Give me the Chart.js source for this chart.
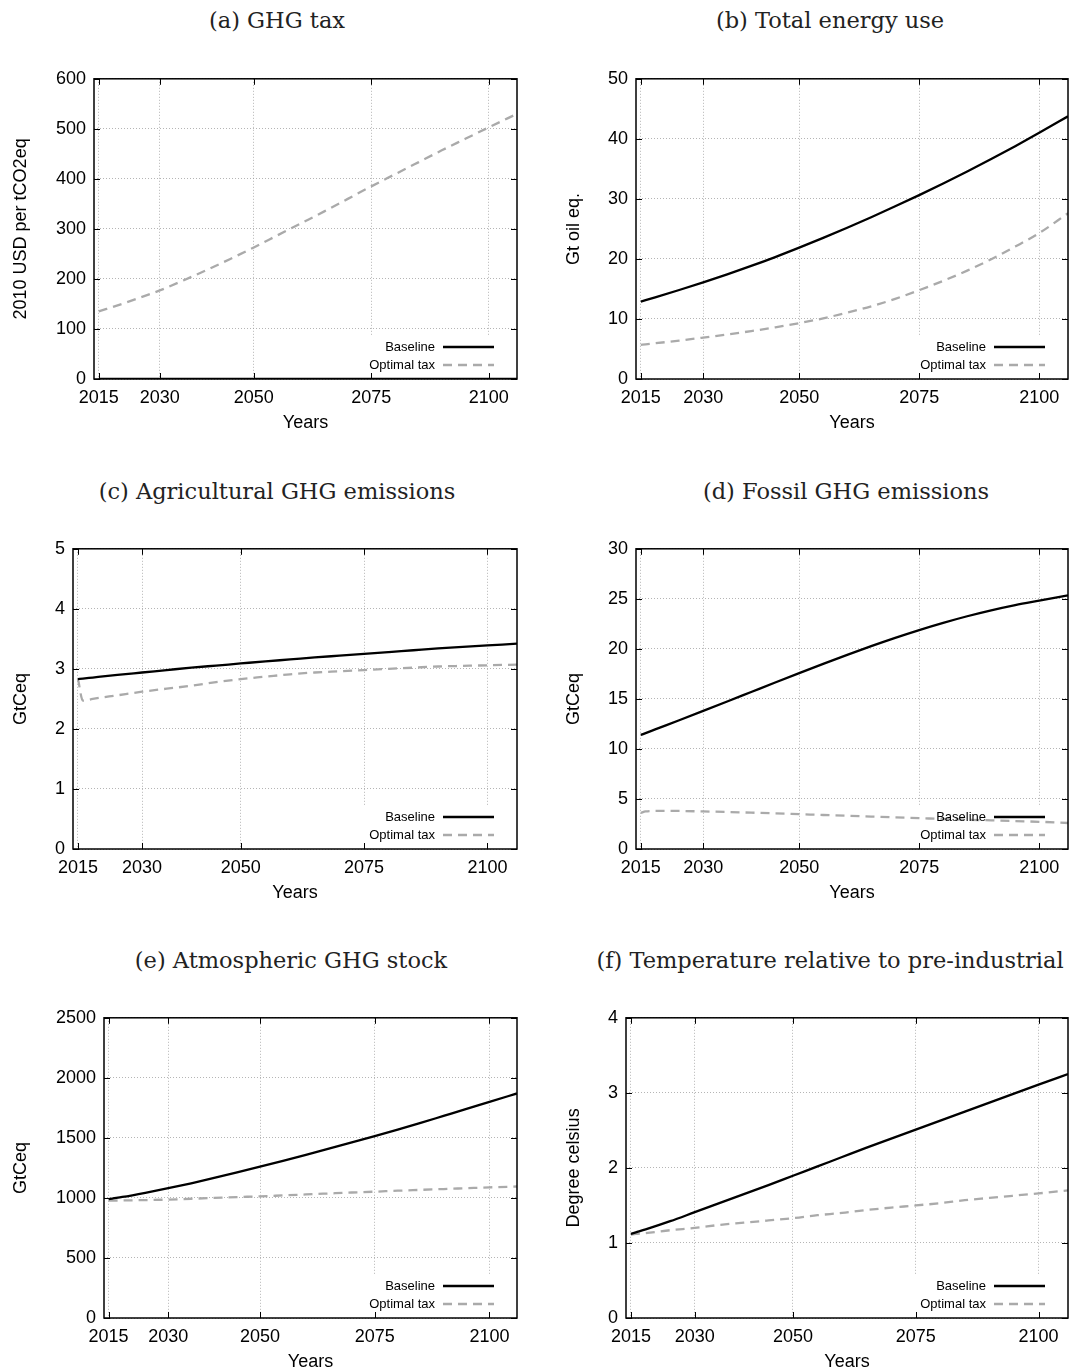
<!DOCTYPE html>
<html>
<head>
<meta charset="utf-8">
<script src="https://cdn.jsdelivr.net/npm/chart.js@4.4.1/dist/chart.umd.min.js"></script>
<style>
  html, body { margin: 0; padding: 0; background: #fff; }
  body { width: 1072px; height: 1371px; position: relative; overflow: hidden; }
  canvas { position: absolute; }
  .cap { position: absolute; width: 600px; text-align: center; font: 22.5px "DejaVu Serif", serif; color: #222; line-height: 30px; white-space: nowrap; }
</style>
</head>
<body>
<script>
// model years (x positions of the points) and the x tick marks
const years = [2017, 2018, 2020, 2025, 2030, 2035, 2040, 2045, 2050, 2055, 2060, 2065, 2070, 2075, 2080, 2085, 2090, 2095, 2100, 2106];
const xTickAt = [2017, 2030, 2050, 2075, 2100];
const xTickText = ['2015', '2030', '2050', '2075', '2100'];
const seriesNames = ['Baseline', 'Optimal tax'];

// (a) GHG tax
const taxBaseline = [0, 0, 0, 0, 0, 0, 0, 0, 0, 0, 0, 0, 0, 0, 0, 0, 0, 0, 0, 0];
const taxOptimal = [135, 138, 144, 160, 177, 197, 218, 240, 263, 287, 311, 335, 360, 385, 409, 433, 457, 480, 503, 530];
// (b) Total energy use
const energyBaseline = [12.9, 13.13, 13.6, 14.82, 16.1, 17.43, 18.83, 20.31, 21.88, 23.5, 25.2, 26.95, 28.76, 30.62, 32.55, 34.55, 36.63, 38.78, 41.0, 43.75];
const energyOptimal = [5.7, 5.78, 5.95, 6.4, 6.9, 7.42, 7.98, 8.6, 9.3, 10.1, 11.05, 12.1, 13.35, 14.8, 16.35, 18.05, 19.95, 22.05, 24.3, 27.6];
// (c) Agricultural GHG emissions
const agriBaseline = [2.83, 2.838, 2.856, 2.90, 2.94, 2.98, 3.02, 3.055, 3.09, 3.125, 3.157, 3.19, 3.22, 3.25, 3.28, 3.31, 3.34, 3.365, 3.39, 3.42];
const agriOptimal = [2.84, 2.47, 2.50, 2.56, 2.62, 2.67, 2.72, 2.78, 2.83, 2.87, 2.91, 2.94, 2.96, 2.98, 3.00, 3.02, 3.04, 3.05, 3.06, 3.07];
// (d) Fossil GHG emissions
const fossilBaseline = [11.4, 11.58, 11.95, 12.87, 13.8, 14.74, 15.69, 16.64, 17.58, 18.5, 19.4, 20.27, 21.1, 21.88, 22.6, 23.26, 23.85, 24.37, 24.82, 25.35];
const fossilOptimal = [3.6, 3.75, 3.8, 3.8, 3.75, 3.7, 3.63, 3.56, 3.48, 3.40, 3.32, 3.24, 3.16, 3.08, 3.0, 2.93, 2.86, 2.79, 2.72, 2.6];
// (e) Atmospheric GHG stock
const stockBaseline = [990, 996, 1008, 1043, 1081, 1122, 1166, 1212, 1260, 1309, 1359, 1410, 1462, 1515, 1569, 1625, 1683, 1741, 1800, 1870];
const stockOptimal = [978, 978, 979, 982, 986, 993, 1000, 1007, 1013, 1021, 1029, 1037, 1045, 1052, 1060, 1067, 1074, 1081, 1088, 1095];
// (f) Temperature relative to pre-industrial
const tempBaseline = [1.12, 1.14, 1.18, 1.29, 1.41, 1.53, 1.65, 1.77, 1.895, 2.02, 2.145, 2.27, 2.39, 2.51, 2.63, 2.75, 2.87, 2.99, 3.11, 3.25];
const tempOptimal = [1.11, 1.12, 1.13, 1.17, 1.20, 1.24, 1.27, 1.30, 1.33, 1.37, 1.40, 1.44, 1.47, 1.50, 1.53, 1.57, 1.60, 1.63, 1.66, 1.70];

const panels = [
  { title: '(a) GHG tax', yTitle: '2010 USD per tCO2eq', yMax: 600, yStep: 100, base: taxBaseline, opt: taxOptimal,
    left: 0, top: 60, width: 536, padRight: 19, yWidth: 94, capX: 277, capY: 20 },
  { title: '(b) Total energy use', yTitle: 'Gt oil eq.', yMax: 50, yStep: 10, base: energyBaseline, opt: energyOptimal,
    left: 553, top: 60, width: 519, padRight: 4, yWidth: 83, capX: 830, capY: 20 },
  { title: '(c) Agricultural GHG emissions', yTitle: 'GtCeq', yMax: 5, yStep: 1, base: agriBaseline, opt: agriOptimal,
    left: 0, top: 530, width: 536, padRight: 19, yWidth: 73, capX: 277, capY: 491 },
  { title: '(d) Fossil GHG emissions', yTitle: 'GtCeq', yMax: 30, yStep: 5, base: fossilBaseline, opt: fossilOptimal,
    left: 553, top: 530, width: 519, padRight: 4, yWidth: 83, capX: 846, capY: 491 },
  { title: '(e) Atmospheric GHG stock', yTitle: 'GtCeq', yMax: 2500, yStep: 500, base: stockBaseline, opt: stockOptimal,
    left: 0, top: 999, width: 536, padRight: 19, yWidth: 104, capX: 291, capY: 960 },
  { title: '(f) Temperature relative to pre-industrial', yTitle: 'Degree celsius', yMax: 4, yStep: 1, base: tempBaseline, opt: tempOptimal,
    left: 553, top: 999, width: 519, padRight: 4, yWidth: 73, capX: 830, capY: 960 }
];

const sans = '"Liberation Sans", Arial, sans-serif';
const tickFont = { family: sans, size: 18 };
const gridColor = 'rgba(150,150,150,0.7)';

// gnuplot-like frame: box, inward ticks on all sides, key in the lower right
const frame = {
  id: 'frame',
  beforeDatasetsDraw(chart) {
    const { ctx, chartArea: a } = chart;
    ctx.save();
    ctx.fillStyle = '#fff';
    ctx.fillRect(a.right - 158, a.bottom - 44, 157, 43);
    ctx.restore();
  },
  afterDatasetsDraw(chart) {
    const { ctx, chartArea: a, scales } = chart;
    ctx.save();
    ctx.strokeStyle = '#000';
    ctx.lineWidth = 1;
    ctx.beginPath();
    scales.x.ticks.forEach(t => {
      const px = Math.round(scales.x.getPixelForValue(t.value)) + 0.5;
      ctx.moveTo(px, a.bottom); ctx.lineTo(px, a.bottom - 6);
      ctx.moveTo(px, a.top); ctx.lineTo(px, a.top + 6);
    });
    scales.y.ticks.forEach(t => {
      const py = Math.round(scales.y.getPixelForValue(t.value)) + 0.5;
      ctx.moveTo(a.left, py); ctx.lineTo(a.left + 6, py);
      ctx.moveTo(a.right, py); ctx.lineTo(a.right - 6, py);
    });
    ctx.stroke();
    ctx.lineWidth = 1.5;
    ctx.strokeRect(a.left, a.top, a.right - a.left, a.bottom - a.top);

    ctx.font = '13px ' + sans;
    ctx.textAlign = 'right';
    ctx.textBaseline = 'middle';
    chart.data.datasets.forEach((ds, i) => {
      const y = a.bottom - 32 + i * 18;
      ctx.fillStyle = '#000';
      ctx.fillText(ds.label, a.right - 82, y);
      ctx.strokeStyle = ds.borderColor;
      ctx.lineWidth = ds.borderWidth;
      ctx.setLineDash(ds.borderDash || []);
      ctx.beginPath();
      ctx.moveTo(a.right - 74, y);
      ctx.lineTo(a.right - 23, y);
      ctx.stroke();
      ctx.setLineDash([]);
    });
    ctx.restore();
  }
};

panels.forEach(p => {
  const cap = document.createElement('div');
  cap.className = 'cap';
  cap.textContent = p.title;
  cap.style.left = (p.capX - 300) + 'px';
  cap.style.top = (p.capY - 15) + 'px';
  document.body.appendChild(cap);

  const cv = document.createElement('canvas');
  cv.width = p.width;
  cv.height = 390;
  cv.style.left = p.left + 'px';
  cv.style.top = p.top + 'px';
  document.body.appendChild(cv);

  new Chart(cv, {
    type: 'line',
    data: {
      datasets: [
        { label: seriesNames[0], data: years.map((x, i) => ({ x, y: p.base[i] })),
          borderColor: '#000', borderWidth: 2.3, pointRadius: 0, fill: false, cubicInterpolationMode: 'monotone' },
        { label: seriesNames[1], data: years.map((x, i) => ({ x, y: p.opt[i] })),
          borderColor: '#aaaaaa', borderWidth: 2.3, borderDash: [9, 6], pointRadius: 0, fill: false, cubicInterpolationMode: 'monotone' }
      ]
    },
    options: {
      responsive: false,
      animation: false,
      events: [],
      layout: { padding: { top: 18, right: p.padRight, left: 0, bottom: 0 } },
      plugins: { legend: { display: false }, tooltip: { enabled: false }, title: { display: false } },
      scales: {
        x: {
          type: 'linear', min: 2016, max: 2106,
          afterBuildTicks: s => { s.ticks = xTickAt.map(v => ({ value: v })); },
          afterFit: s => { s.height = 71; },
          ticks: { autoSkip: false, maxRotation: 0, padding: 8, color: '#000', font: tickFont,
            callback: v => xTickText[xTickAt.indexOf(v)] },
          grid: { color: gridColor, lineWidth: 1, drawTicks: false },
          border: { display: false, dash: [1, 2] },
          title: { display: true, text: 'Years', color: '#000', font: tickFont, padding: { top: 0, bottom: 16 } }
        },
        y: {
          type: 'linear', min: 0, max: p.yMax,
          afterFit: s => { s.width = p.yWidth; },
          ticks: { stepSize: p.yStep, padding: 8, color: '#000', font: tickFont, callback: v => String(v) },
          grid: { color: gridColor, lineWidth: 1, drawTicks: false },
          border: { display: false, dash: [1, 2] },
          title: { display: true, text: p.yTitle, color: '#000', font: tickFont, padding: { top: 10, bottom: 0 } }
        }
      }
    },
    plugins: [frame]
  });
});
</script>
</body>
</html>
